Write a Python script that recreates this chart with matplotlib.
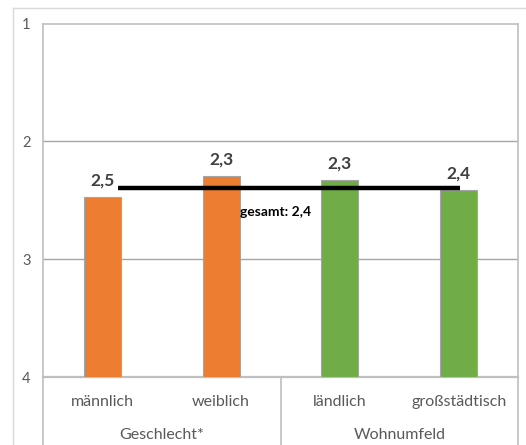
import matplotlib
matplotlib.use("Agg")
import matplotlib.pyplot as plt
from matplotlib.lines import Line2D

# data
categories = ["männlich", "weiblich", "ländlich", "großstädtisch"]
values = [2.47, 2.29, 2.33, 2.41]
value_labels = ["2,5", "2,3", "2,3", "2,4"]
groups = ["Geschlecht*", "Wohnumfeld"]
group_sizes = [2, 2]
bar_colors = ["#ED7D31", "#ED7D31", "#70AD47", "#70AD47"]
total = 2.4
total_label = "gesamt: 2,4"

plt.rcParams["font.family"] = ["Lato", "DejaVu Sans"]

fig = plt.figure(figsize=(5.26, 4.45), dpi=100)
ax = fig.add_axes([43 / 526, 68 / 445, 475 / 526, 353.5 / 445])

grid_col = "#a6a6a6"
frame_col = "#bfbfbf"
text_col = "#595959"

x = list(range(len(categories)))
ax.bar(x, [v - 4 for v in values], bottom=4, width=0.31, color=bar_colors,
       edgecolor="#a5a5a5", linewidth=0.8, zorder=3)

for xi, v, lab in zip(x, values, value_labels):
    ax.text(xi, v - 0.07, lab, ha="center", va="bottom", fontsize=12.5,
            fontweight="bold", color="#404040", zorder=5)

# total line
ax.plot([0.13, 3.01], [total, total], color="black", lw=3.2, zorder=4,
        solid_capstyle="butt")
ax.text(1.16, total + 0.2, total_label, ha="left", va="center", fontsize=10,
        fontweight="bold", color="black", zorder=5)

ax.set_xlim(-0.5, len(categories) - 0.5)
ax.set_ylim(4, 1)
ax.set_yticks([1, 2, 3, 4])
ax.set_yticklabels(["1", "2", "3", "4"])
ax.tick_params(axis="y", length=0, pad=12, labelsize=10.5, labelcolor=text_col)
for lab in ax.get_yticklabels():
    lab.set_horizontalalignment("center")
ax.set_xticks([])

for y in [2, 3]:
    ax.axhline(y, color=grid_col, lw=1.0, zorder=1)

for side in ["left", "top", "right"]:
    ax.spines[side].set_color(frame_col)
    ax.spines[side].set_linewidth(1.2)
ax.spines["bottom"].set_color(frame_col)
ax.spines["bottom"].set_linewidth(1.6)

# category and group labels below the axis
for xi, c in zip(x, categories):
    ax.text(xi, 4 + 0.21, c, ha="center", va="center", fontsize=11.5,
            color=text_col, clip_on=False)

start = 0
seps = [-0.5]
for g, n in zip(groups, group_sizes):
    mid = start + (n - 1) / 2
    ax.text(mid, 4 + 0.49, g, ha="center", va="center", fontsize=11.5,
            color=text_col, clip_on=False)
    start += n
    seps.append(start - 0.5)

for s in seps:
    ax.add_line(Line2D([s, s], [4, 4.6], color=frame_col, lw=1.2, clip_on=False))

# outer chart border
fig.add_artist(Line2D([13 / 526, 13 / 526], [0, 1 - 8 / 445], color="#d9d9d9",
                      lw=1.0, transform=fig.transFigure))
fig.add_artist(Line2D([13 / 526, 1], [1 - 8 / 445, 1 - 8 / 445], color="#d9d9d9",
                      lw=1.0, transform=fig.transFigure))

fig.savefig("out.png", dpi=100)
